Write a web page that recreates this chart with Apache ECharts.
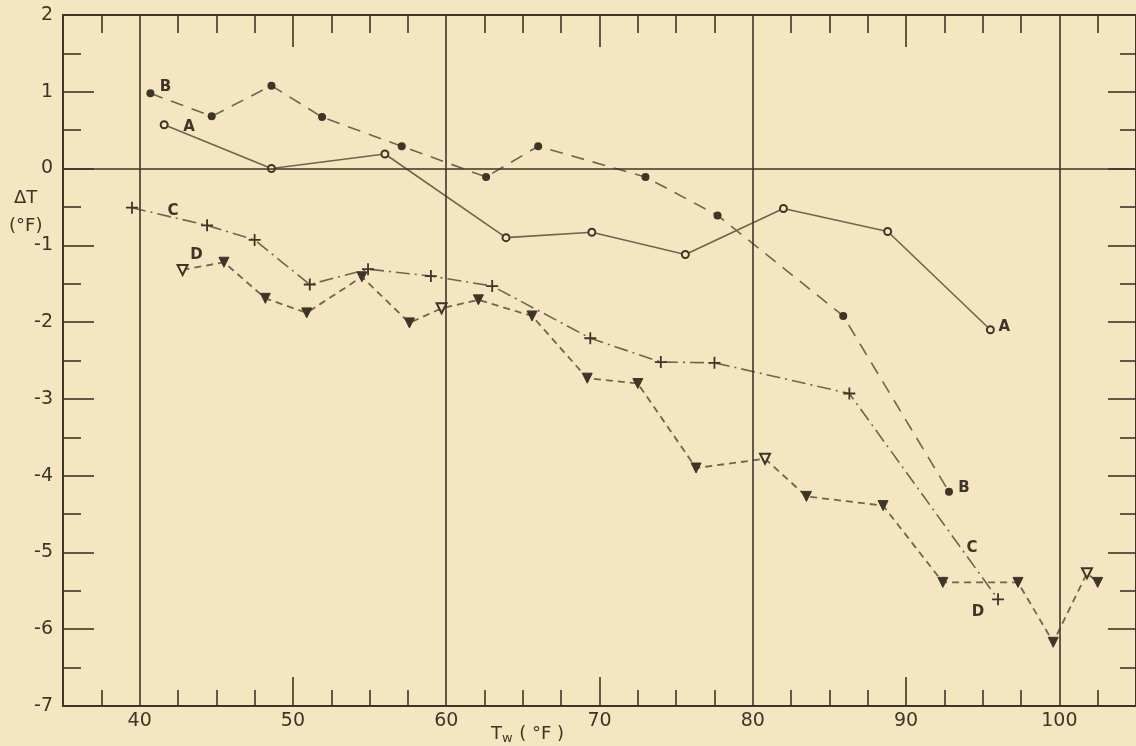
<!DOCTYPE html>
<html><head><meta charset="utf-8">
<script src="https://cdn.jsdelivr.net/npm/echarts@6/dist/echarts.min.js"></script>
<style>html,body{margin:0;padding:0;background:#f4e6c0;}#c{width:1136px;height:746px;}</style>
</head><body><div id="c"></div>
<script>
// ---- data ----
const aX = [41.6, 48.6, 56.0, 63.9, 69.5, 75.6, 82.0, 88.8, 95.5];
const aY = [0.57, 0.0, 0.19, -0.90, -0.83, -1.12, -0.52, -0.82, -2.10];
const bX = [40.7, 44.7, 48.6, 51.9, 57.1, 62.6, 66.0, 73.0, 77.7, 85.9, 92.8];
const bY = [0.98, 0.68, 1.08, 0.67, 0.29, -0.11, 0.29, -0.11, -0.61, -1.92, -4.21];
const cX = [39.5, 44.4, 47.5, 51.1, 54.9, 59.0, 63.0, 69.4, 74.0, 77.5, 86.3, 96.0];
const cY = [-0.51, -0.74, -0.93, -1.51, -1.31, -1.40, -1.53, -2.21, -2.52, -2.53, -2.93, -5.61];
const dX = [42.8, 45.5, 48.2, 50.9, 54.5, 57.6, 59.7, 62.1, 65.6, 69.2, 72.5, 76.3, 80.8, 83.5, 88.5, 92.4, 97.3, 99.6, 101.8, 102.5];
const dY = [-1.32, -1.22, -1.69, -1.88, -1.41, -2.01, -1.82, -1.71, -1.92, -2.73, -2.80, -3.90, -3.78, -4.27, -4.39, -5.39, -5.39, -6.17, -5.27, -5.39];

const xLabels = [40, 50, 60, 70, 80, 90, 100];
const xTicksMinor = [37.5, 42.5, 45, 47.5, 52.5, 55, 57.5, 62.5, 65, 67.5, 72.5, 75, 77.5, 82.5, 85, 87.5, 92.5, 95, 97.5, 102.5];
const xTicksMajor = [50, 70, 90];
const xGridLines = [40, 60, 80, 100];
const yLabels = [2, 1, 0, -1, -2, -3, -4, -5, -6, -7];
const yTicksMajor = [1, 0, -1, -2, -3, -4, -5, -6];
const yTicksMinor = [1.5, 0.5, -0.5, -1.5, -2.5, -3.5, -4.5, -5.5, -6.5];
const yGridLines = [0];

// ---- styles ----
const ink = '#3d3527';
const lineInk = '#6e6450';
const bg = '#f4e6c0';
const font = 'DejaVu Sans';
const dOpen = [0, 6, 12, 18];
// label placement: [point index, dx, dy]
const labelSpots = {
  A: [[0, 25, 2], [8, 14, -3]],
  B: [[0, 15, -6], [10, 15, -4]],
  C: [[0, 41, 3], [11, -26, -51]],
  D: [[0, 14, -15], [16, -40, 30]]
};

function build(name, xs, ys, extra) {
  const spots = labelSpots[name];
  return xs.map((x, i) => {
    const item = { value: [x, ys[i]] };
    const s = spots.find(p => p[0] === i);
    if (s) {
      item.label = { show: true, formatter: name, position: 'inside', offset: [s[1], s[2]],
        color: ink, fontFamily: font, fontSize: 15, fontWeight: 'bold' };
    }
    if (extra) extra(item, i);
    return item;
  });
}

const axisLineStyle = { color: ink, width: 2 };
const tickStyle = { color: ink, width: 1.6 };
function xAx(pos, vals, len, showLine, showLabel) {
  return {
    type: 'value', position: pos, min: 35, max: 105, gridIndex: 0,
    axisLine: { show: showLine, onZero: false, lineStyle: axisLineStyle },
    axisTick: { show: true, inside: true, length: len, customValues: vals, lineStyle: tickStyle },
    axisLabel: { show: showLabel, customValues: xLabels, color: ink, fontFamily: font, fontSize: 19, margin: 6 },
    splitLine: { show: false }
  };
}
function yAx(pos, vals, len, showLine, showLabel) {
  return {
    type: 'value', position: pos, min: -7, max: 2, gridIndex: 0,
    axisLine: { show: showLine, onZero: false, lineStyle: axisLineStyle },
    axisTick: { show: true, inside: true, length: len, customValues: vals, lineStyle: tickStyle },
    axisLabel: { show: showLabel, customValues: yLabels, color: ink, fontFamily: font, fontSize: 19, margin: 10 },
    splitLine: { show: false }
  };
}

const chart = echarts.init(document.getElementById('c'), null, { renderer: 'canvas' });
chart.setOption({
  backgroundColor: bg,
  animation: false,
  grid: { left: 63, top: 15, right: -5, bottom: 40, containLabel: false },
  xAxis: [
    xAx('bottom', xTicksMinor, 16, true, true),
    xAx('bottom', xTicksMajor, 29, false, false),
    xAx('top', xTicksMinor, 18, true, false),
    xAx('top', xTicksMajor, 32, false, false)
  ],
  yAxis: [
    yAx('left', yTicksMajor, 31, true, true),
    yAx('left', yTicksMinor, 18, false, false),
    yAx('right', yTicksMajor, 28, true, false),
    yAx('right', yTicksMinor, 16, false, false)
  ],
  graphic: [
    { type: 'text', left: 14, top: 189, style: { text: 'ΔT', fill: ink, font: '18px "DejaVu Sans"' } },
    { type: 'text', left: 9, top: 217, style: { text: '(°F)', fill: ink, font: '18px "DejaVu Sans"' } },
    { type: 'text', left: 491, top: 725, style: {
        text: '{t|T}{s|w}  {t|( °F )}',
        rich: { t: { fill: ink, fontFamily: font, fontSize: 18 },
                s: { fill: ink, fontFamily: font, fontSize: 13, padding: [9, 0, 0, 0] } } } }
  ],
  series: [
    {
      name: 'A', type: 'line', xAxisIndex: 0, yAxisIndex: 0,
      data: build('A', aX, aY),
      symbol: 'circle', symbolSize: 7,
      itemStyle: { color: bg, borderColor: ink, borderWidth: 2 },
      lineStyle: { color: lineInk, width: 1.6, type: 'solid' },
      markLine: {
        silent: true, symbol: ['none', 'none'], label: { show: false },
        lineStyle: { color: ink, width: 1.6, type: 'solid' },
        data: xGridLines.map(v => ({ xAxis: v })).concat(yGridLines.map(v => ({ yAxis: v })))
      },
      z: 3
    },
    {
      name: 'B', type: 'line', xAxisIndex: 0, yAxisIndex: 0,
      data: build('B', bX, bY),
      symbol: 'circle', symbolSize: 8,
      itemStyle: { color: ink, borderColor: ink, borderWidth: 0 },
      lineStyle: { color: lineInk, width: 1.6, type: [13, 9] },
      z: 3
    },
    {
      name: 'C', type: 'line', xAxisIndex: 0, yAxisIndex: 0,
      data: build('C', cX, cY),
      symbol: 'path://M-0.9,-6H0.9V-0.9H6V0.9H0.9V6H-0.9V0.9H-6V-0.9H-0.9Z', symbolSize: 12,
      itemStyle: { color: ink },
      lineStyle: { color: lineInk, width: 1.6, type: [14, 5, 2, 5] },
      z: 3
    },
    {
      name: 'D', type: 'line', xAxisIndex: 0, yAxisIndex: 0,
      data: build('D', dX, dY, (item, i) => {
        if (dOpen.indexOf(i) >= 0) item.itemStyle = { color: bg, borderColor: ink, borderWidth: 2 };
      }),
      symbol: 'triangle', symbolRotate: 180, symbolSize: 10,
      itemStyle: { color: ink, borderColor: ink, borderWidth: 1 },
      lineStyle: { color: lineInk, width: 1.8, type: [7, 5] },
      z: 3
    }
  ]
});
</script></body></html>
